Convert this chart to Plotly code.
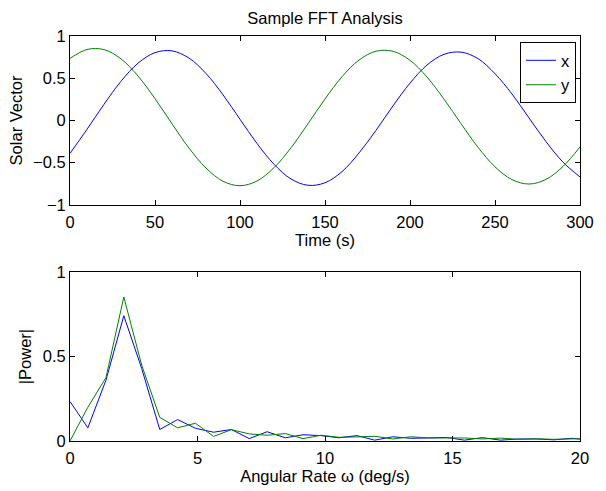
import plotly.graph_objects as go

# ---- data ----
time_s = [0, 10, 20, 30, 40, 50, 60, 70, 80, 90, 100, 110, 120, 130, 140, 150,
          160, 170, 180, 190, 200, 210, 220, 230, 240, 250, 260, 270, 280, 290, 300]
sol_x = [-0.39, -0.105, 0.191, 0.464, 0.678, 0.803, 0.824, 0.738, 0.556, 0.304, 0.014,
         -0.273, -0.519, -0.693, -0.768, -0.738, -0.606, -0.385, -0.117, 0.173, 0.442,
         0.656, 0.783, 0.809, 0.732, 0.554, 0.313, 0.030, -0.251, -0.494, -0.669]
sol_y = [0.735, 0.840, 0.839, 0.729, 0.526, 0.258, -0.040, -0.327, -0.564, -0.720, -0.773,
         -0.717, -0.560, -0.324, -0.039, 0.254, 0.518, 0.715, 0.820, 0.819, 0.712,
         0.514, 0.252, -0.038, -0.318, -0.549, -0.701, -0.753, -0.698, -0.545, -0.314]

rate = [0, 0.70, 1.41, 2.11, 2.81, 3.52, 4.22, 4.92, 5.63, 6.33, 7.03, 7.73, 8.44, 9.14,
        9.84, 10.55, 11.25, 11.95, 12.66, 13.36, 14.06, 14.77, 15.47, 16.17, 16.88,
        17.58, 18.28, 18.98, 19.69, 20.39]
pow_x = [0.234, 0.078, 0.36, 0.742, 0.43, 0.068, 0.127, 0.075, 0.052, 0.068, 0.014,
         0.055, 0.019, 0.037, 0.032, 0.019, 0.032, 0.005, 0.025, 0.016, 0.018, 0.021,
         0.005, 0.02, 0.005, 0.012, 0.012, 0.007, 0.016, 0.005]
pow_y = [0.0, 0.20, 0.375, 0.853, 0.45, 0.14, 0.078, 0.105, 0.027, 0.067, 0.042, 0.034,
         0.044, 0.014, 0.034, 0.022, 0.024, 0.028, 0.012, 0.025, 0.018, 0.02, 0.018,
         0.012, 0.017, 0.01, 0.013, 0.01, 0.01, 0.015]

top_xticks = [0, 50, 100, 150, 200, 250, 300]
top_yticks = [-1, -0.5, 0, 0.5, 1]
top_ylabels = ["\u22121", "\u22120.5", "0", "0.5", "1"]
bot_xticks = [0, 5, 10, 15, 20]
bot_yticks = [0, 0.5, 1]
bot_ylabels = ["0", "0.5", "1"]

BLUE = "rgb(0,0,255)"
GREEN = "rgb(0,128,0)"
FONT = "Liberation Sans, Arial, Helvetica, sans-serif"
FS = 16.5

fig = go.Figure()
fig.add_trace(go.Scatter(x=time_s, y=sol_x, mode="lines", name="x",
                         line=dict(color=BLUE, width=1, shape="spline"),
                         xaxis="x", yaxis="y"))
fig.add_trace(go.Scatter(x=time_s, y=sol_y, mode="lines", name="y",
                         line=dict(color=GREEN, width=1, shape="spline"),
                         xaxis="x", yaxis="y"))
fig.add_trace(go.Scatter(x=rate, y=pow_x, mode="lines", showlegend=False,
                         line=dict(color=BLUE, width=1), xaxis="x2", yaxis="y2"))
fig.add_trace(go.Scatter(x=rate, y=pow_y, mode="lines", showlegend=False,
                         line=dict(color=GREEN, width=1), xaxis="x2", yaxis="y2"))

axis_common = dict(showline=True, linecolor="black", linewidth=1, mirror="ticks",
                   ticks="inside", ticklen=5, tickcolor="black", tickwidth=1,
                   showgrid=False, zeroline=False,
                   tickfont=dict(family=FONT, size=FS, color="black"))

fig.update_layout(
    width=606, height=491,
    margin=dict(l=70, r=15, t=36, b=45),
    paper_bgcolor="white", plot_bgcolor="white",
    font=dict(family=FONT, size=FS, color="black"),
    title=dict(text="Sample FFT Analysis", x=0.5, xref="paper", xanchor="center",
               y=1 - 18 / 491, yanchor="middle", yref="container",
               font=dict(family=FONT, size=FS, color="black")),
    xaxis=dict(domain=[0, 1], anchor="y", range=[0, 300], tickvals=top_xticks,
               ticklabelstandoff=2,
               title=dict(text="Time (s)", standoff=1, font=dict(size=FS)), **axis_common),
    yaxis=dict(domain=[0.583, 1], anchor="x", range=[-1, 1], tickvals=top_yticks,
               ticktext=top_ylabels,
               title=dict(text="Solar Vector", standoff=6, font=dict(size=FS)), **axis_common),
    xaxis2=dict(domain=[0, 1], anchor="y2", range=[0, 20], tickvals=bot_xticks,
                ticklabelstandoff=2,
                title=dict(text="Angular Rate \u03c9 (deg/s)", standoff=1, font=dict(size=FS)),
                **axis_common),
    yaxis2=dict(domain=[0, 0.417], anchor="x2", range=[0, 1], tickvals=bot_yticks,
                ticktext=bot_ylabels,
                title=dict(text="|Power|", standoff=6, font=dict(size=FS)), **axis_common),
    legend=dict(x=0.992, y=0.985, xanchor="right", yanchor="top", xref="paper", yref="paper",
                bgcolor="white", bordercolor="black", borderwidth=1,
                font=dict(family=FONT, size=FS, color="black"),
                itemwidth=30, tracegroupgap=0),
    showlegend=True,
)

fig.write_html("out.html")
